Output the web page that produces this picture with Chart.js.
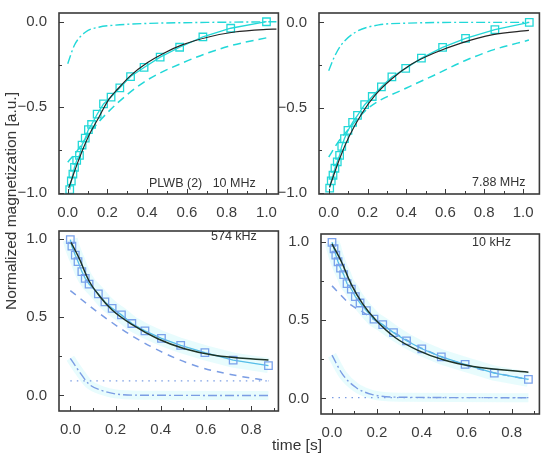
<!DOCTYPE html>
<html>
<head>
<meta charset="utf-8">
<script src="https://cdn.jsdelivr.net/npm/chart.js@4.4.1/dist/chart.umd.min.js"></script>
<style>
  body { margin: 0; background: #fff; }
  #wrap { position: relative; width: 550px; height: 461px; font-family: 'Liberation Sans', Arial, sans-serif; color: #333; }
  canvas { position: absolute; }
  .note { position: absolute; font-size: 12.5px; line-height: 14px; white-space: pre; color: #333; }
  .ytitle { position: absolute; left: 11px; top: 201px; transform: translate(-50%, -50%) rotate(-90deg); font-size: 15.5px; white-space: nowrap; color: #333; }
  .xtitle { position: absolute; left: 272px; top: 437px; font-size: 15.5px; line-height: 16px; color: #333; }
</style>
</head>
<body>
<div id="wrap">
  <canvas id="tl" width="271" height="219" style="left:14px;top:0px"></canvas>
  <canvas id="tr" width="272" height="219" style="left:274px;top:0px"></canvas>
  <canvas id="bl" width="271" height="218" style="left:14px;top:218px"></canvas>
  <canvas id="br" width="270" height="218" style="left:276px;top:221px"></canvas>
  <div class="note" style="left:149px;top:176px">PLWB (2)   10 MHz</div>
  <div class="note" style="left:472px;top:175px">7.88 MHz</div>
  <div class="note" style="left:211px;top:229px">574 kHz</div>
  <div class="note" style="left:472px;top:235px">10 kHz</div>
  <div class="ytitle">Normalized magnetization [a.u.]</div>
  <div class="xtitle">time [s]</div>
</div>
<script>
// tick values
const topXMajor = [0, 0.2, 0.4, 0.6, 0.8, 1.0];
const topXMinor = [0.1, 0.3, 0.5, 0.7, 0.9];
const topYMajor = [-1.0, -0.5, 0.0];
const topYMinor = [-0.75, -0.25];
const botXMajor = [0, 0.2, 0.4, 0.6, 0.8];
const botXMinor = [0.1, 0.3, 0.5, 0.7, 0.9];
const botYMajor = [0.0, 0.5, 1.0];
const botYMinor = [0.25, 0.75];

// 10 MHz (top left)
const tlT = [0.01, 0.018, 0.026, 0.034, 0.045, 0.059, 0.072, 0.088, 0.104, 0.12, 0.148, 0.18, 0.218, 0.262, 0.316, 0.384, 0.465, 0.563, 0.68, 0.82, 1.0];
const tlM = [-0.98, -0.93, -0.89, -0.85, -0.81, -0.78, -0.72, -0.68, -0.63, -0.60, -0.54, -0.48, -0.44, -0.386, -0.32, -0.267, -0.207, -0.149, -0.089, -0.038, 0.0];
const tlFitT = [0.005, 0.059, 0.107, 0.156, 0.205, 0.254, 0.319, 0.4, 0.481, 0.579, 0.709, 0.839, 1.0, 1.05];
const tlFitY = [-0.97, -0.795, -0.663, -0.559, -0.456, -0.39, -0.312, -0.24, -0.185, -0.134, -0.089, -0.06, -0.045, -0.043];
const tlDashT = [0.0, 0.05, 0.1, 0.156, 0.25, 0.384, 0.58, 0.805, 1.02];
const tlDashY = [-0.82, -0.75, -0.665, -0.585, -0.475, -0.352, -0.239, -0.145, -0.089];
const tlDdT = [0.0, 0.034, 0.09, 0.156, 0.238, 0.4, 0.7, 1.05];
const tlDdY = [-0.245, -0.136, -0.06, -0.032, -0.02, -0.01, -0.004, 0.0];

// 7.88 MHz (top right)
const trT = [0.005, 0.013, 0.022, 0.032, 0.044, 0.056, 0.067, 0.081, 0.099, 0.123, 0.148, 0.185, 0.224, 0.271, 0.325, 0.396, 0.477, 0.586, 0.704, 0.855, 1.032];
const trM = [-0.973, -0.93, -0.897, -0.856, -0.818, -0.78, -0.727, -0.682, -0.634, -0.587, -0.546, -0.483, -0.435, -0.378, -0.32, -0.27, -0.21, -0.147, -0.094, -0.043, 0.0];
const trFitT = [0.005, 0.056, 0.106, 0.173, 0.24, 0.325, 0.425, 0.543, 0.677, 0.845, 1.03];
const trFitY = [-0.965, -0.80, -0.667, -0.53, -0.426, -0.331, -0.246, -0.18, -0.123, -0.072, -0.047];
const trDashT = [0.0, 0.05, 0.1, 0.207, 0.4, 0.543, 0.7, 0.85, 1.03];
const trDashY = [-0.79, -0.70, -0.63, -0.50, -0.385, -0.31, -0.225, -0.16, -0.104];
const trDdT = [0.0, 0.03, 0.064, 0.139, 0.257, 0.4, 0.7, 1.03];
const trDdY = [-0.284, -0.2, -0.133, -0.057, -0.015, -0.005, 0.0, 0.0];

// 574 kHz (bottom left)
const blT = [0.0, 0.007, 0.022, 0.034, 0.051, 0.066, 0.083, 0.124, 0.153, 0.185, 0.226, 0.272, 0.33, 0.403, 0.488, 0.595, 0.72, 0.876];
const blM = [0.994, 0.952, 0.895, 0.854, 0.79, 0.747, 0.71, 0.648, 0.597, 0.556, 0.514, 0.459, 0.412, 0.364, 0.319, 0.273, 0.226, 0.191];
const blFitT = [0.003, 0.039, 0.083, 0.127, 0.185, 0.272, 0.389, 0.505, 0.636, 0.876];
const blFitY = [0.977, 0.875, 0.73, 0.638, 0.545, 0.453, 0.36, 0.298, 0.257, 0.226];
const blDashT = [0.0, 0.127, 0.272, 0.418, 0.563, 0.709, 0.876];
const blDashY = [0.669, 0.525, 0.381, 0.268, 0.185, 0.134, 0.093];
const blDotT = [0.0, 0.876];
const blDotY = [0.093, 0.093];
const blDdT = [0.0, 0.039, 0.083, 0.141, 0.2, 0.3, 0.876];
const blDdY = [0.237, 0.154, 0.072, 0.031, 0.01, 0.002, 0.0];

// 10 kHz (bottom right)
const brT = [0.0, 0.009, 0.017, 0.027, 0.038, 0.052, 0.067, 0.086, 0.104, 0.125, 0.153, 0.187, 0.226, 0.274, 0.332, 0.4, 0.487, 0.593, 0.723, 0.875];
const brM = [0.996, 0.955, 0.914, 0.872, 0.831, 0.79, 0.733, 0.698, 0.65, 0.609, 0.56, 0.506, 0.471, 0.42, 0.368, 0.317, 0.265, 0.218, 0.162, 0.122];
const brFitT = [0.0, 0.042, 0.086, 0.136, 0.194, 0.281, 0.383, 0.499, 0.629, 0.875];
const brFitY = [0.986, 0.872, 0.728, 0.605, 0.502, 0.389, 0.307, 0.245, 0.204, 0.167];
const brDashT = [0.0, 0.086, 0.136, 0.2, 0.3, 0.4, 0.5, 0.6, 0.72, 0.875];
const brDashY = [0.718, 0.595, 0.553, 0.49, 0.40, 0.32, 0.26, 0.21, 0.165, 0.122];
const brDotT = [0.0, 0.875];
const brDotY = [0.005, 0.005];
const brDdT = [0.0, 0.048, 0.107, 0.18, 0.3, 0.875];
const brDdY = [0.276, 0.152, 0.07, 0.025, 0.008, 0.005];

const pts = (ts, ys) => ts.map((t, i) => ({ x: t, y: ys[i] }));
const fmt = v => (v < 0 ? '\u2212' : '') + Math.abs(v).toFixed(1);

// box frame + inward tick marks
const frameTicks = {
  id: 'frameTicks',
  afterDatasetsDraw(chart, args, o) {
    const { ctx, chartArea: a } = chart;
    const sx = chart.scales.x, sy = chart.scales.y;
    ctx.save();
    ctx.strokeStyle = '#3a3a3a';
    ctx.lineWidth = 1;
    const mark = (vals, len, horiz) => vals.forEach(v => {
      ctx.beginPath();
      if (horiz) {
        const p = Math.round(sx.getPixelForValue(v)) + 0.5;
        ctx.moveTo(p, a.bottom); ctx.lineTo(p, a.bottom - len);
      } else {
        const p = Math.round(sy.getPixelForValue(v)) + 0.5;
        ctx.moveTo(a.left, p); ctx.lineTo(a.left + len, p);
      }
      ctx.stroke();
    });
    mark(o.xMajor, 5, true); mark(o.xMinor, 3, true);
    mark(o.yMajor, 5, false); mark(o.yMinor, 3, false);
    ctx.lineWidth = 1.6;
    ctx.strokeRect(a.left, a.top, a.right - a.left, a.bottom - a.top);
    ctx.restore();
  }
};

function line(data, color, width, dash, extra) {
  return Object.assign({
    data: data, borderColor: color, borderWidth: width, borderDash: dash || [],
    pointRadius: 0, cubicInterpolationMode: 'monotone', fill: false
  }, extra || {});
}

function squares(data, pointColor, lineColor) {
  return {
    data: data, borderColor: lineColor, borderWidth: 1.3, tension: 0,
    pointStyle: 'rect', pointRadius: 5.3, pointBorderWidth: 1.3,
    pointBorderColor: pointColor, pointBackgroundColor: 'rgba(0,0,0,0)', fill: false
  };
}

function makeChart(id, datasets, xr, yr, xMajor, xMinor, yMajor, yMinor) {
  const tickFont = { family: "'Liberation Sans', Arial, sans-serif", size: 15 };
  return new Chart(document.getElementById(id), {
    type: 'line',
    data: { datasets: datasets },
    plugins: [frameTicks],
    options: {
      responsive: false, animation: false,
      layout: { padding: { top: 7, right: 2, left: 0, bottom: 0 } },
      plugins: {
        legend: { display: false }, tooltip: { enabled: false },
        frameTicks: { xMajor, xMinor, yMajor, yMinor }
      },
      scales: {
        x: {
          type: 'linear', min: xr[0], max: xr[1],
          grid: { display: false }, border: { display: false },
          afterBuildTicks: s => { s.ticks = xMajor.map(v => ({ value: v })); },
          afterFit: s => { s.height = 25; },
          ticks: { autoSkip: false, maxRotation: 0, padding: 2, color: '#3c3c3c', font: tickFont, callback: v => fmt(v) }
        },
        y: {
          type: 'linear', min: yr[0], max: yr[1],
          grid: { display: false }, border: { display: false },
          afterBuildTicks: s => { s.ticks = yMajor.map(v => ({ value: v })); },
          afterFit: s => { s.width = 45; },
          ticks: { padding: 4, color: '#3c3c3c', font: tickFont, callback: v => fmt(v) }
        }
      }
    }
  });
}

const cyan = '#22d8d8';
const fitTop = '#262626';
const fitBot = '#1c3327';
const sqBlue = '#7aa2ec';
const lnBlue = '#55bde8';
const compBlue = '#7b9de4';
const halo = 'rgba(150,240,244,0.22)';

makeChart('tl', [
  line(pts(tlFitT, tlFitY), fitTop, 1.2),
  squares(pts(tlT, tlM), cyan, cyan),
  line(pts(tlDashT, tlDashY), cyan, 1.5, [8, 5]),
  line(pts(tlDdT, tlDdY), cyan, 1.4, [9, 3, 2, 3])
], [-0.044, 1.06], [-1.006, 0.051], topXMajor, topXMinor, topYMajor, topYMinor);

makeChart('tr', [
  line(pts(trFitT, trFitY), fitTop, 1.2),
  squares(pts(trT, trM), cyan, cyan),
  line(pts(trDashT, trDashY), cyan, 1.5, [8, 5]),
  line(pts(trDdT, trDdY), cyan, 1.4, [9, 3, 2, 3])
], [-0.05, 1.084], [-1.007, 0.055], topXMajor, topXMinor, topYMajor, topYMinor);

makeChart('bl', [
  line(pts(blFitT, blFitY), fitBot, 1.5),
  squares(pts(blT, blM), sqBlue, lnBlue),
  line(pts(blDashT, blDashY), compBlue, 1.5, [7, 6]),
  line(pts(blDotT, blDotY), compBlue, 1.3, [1.5, 5]),
  line(pts(blDdT, blDdY), compBlue, 1.4, [9, 3, 2, 3]),
  line(pts(blT, blM), halo, 15, [], { cubicInterpolationMode: 'default', tension: 0 }),
  line(pts(blDdT, blDdY), halo, 9)
], [-0.05, 0.92], [-0.099, 1.049], botXMajor, botXMinor, botYMajor, botYMinor);

makeChart('br', [
  line(pts(brFitT, brFitY), fitBot, 1.5),
  squares(pts(brT, brM), sqBlue, lnBlue),
  line(pts(brDashT, brDashY), compBlue, 1.5, [7, 6]),
  line(pts(brDotT, brDotY), compBlue, 1.3, [1.5, 5]),
  line(pts(brDdT, brDdY), compBlue, 1.4, [9, 3, 2, 3]),
  line(pts(brT, brM), halo, 15, [], { cubicInterpolationMode: 'default', tension: 0 }),
  line(pts(brDdT, brDdY), halo, 9)
], [-0.049, 0.924], [-0.099, 1.049], botXMajor, botXMinor, botYMajor, botYMinor);
</script>
</body>
</html>
